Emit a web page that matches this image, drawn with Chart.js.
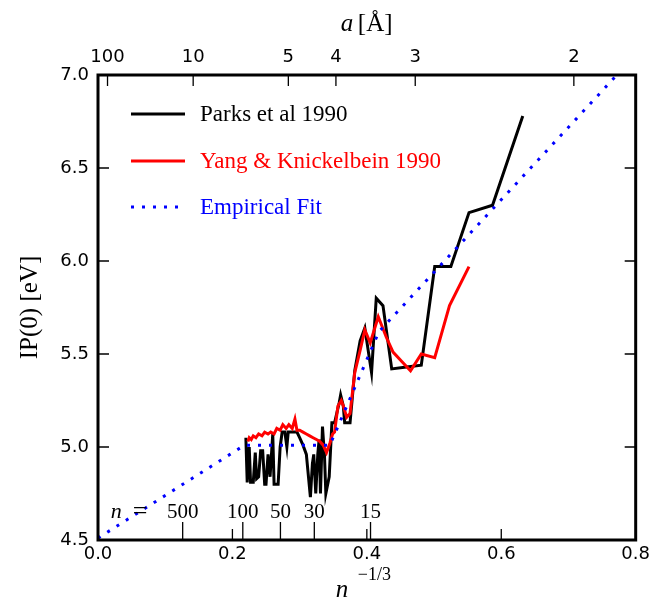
<!DOCTYPE html>
<html>
<head>
<meta charset="utf-8">
<script src="https://cdn.jsdelivr.net/npm/chart.js@4.4.0/dist/chart.umd.min.js"></script>
<style>
  html, body { margin: 0; padding: 0; background: #fff; }
</style>
</head>
<body>
<canvas id="ipChart" width="654" height="606"></canvas>
<script>
// Parks et al 1990 (black)
const parksX = [0.220, 0.222, 0.225, 0.227, 0.231, 0.234, 0.236, 0.239, 0.242, 0.245,
  0.248, 0.250, 0.253, 0.256, 0.260, 0.262, 0.268, 0.271, 0.274, 0.278,
  0.281, 0.283, 0.289, 0.296, 0.300, 0.305, 0.310, 0.316, 0.319, 0.321,
  0.324, 0.327, 0.329, 0.331, 0.334, 0.337, 0.339, 0.344, 0.348, 0.352,
  0.359, 0.361, 0.365, 0.367, 0.375, 0.382, 0.390, 0.397, 0.407, 0.414,
  0.424, 0.437, 0.459, 0.481, 0.501, 0.525, 0.552, 0.587, 0.632];
const parksY = [5.05, 4.81, 5.00, 4.81, 4.81, 4.97, 4.83, 4.84, 4.98, 4.98,
  4.80, 4.80, 4.96, 4.84, 5.07, 4.80, 4.80, 5.00, 5.08, 5.08,
  5.00, 5.08, 5.08, 5.08, 5.05, 5.01, 4.96, 4.73, 4.91, 4.96,
  4.75, 4.96, 5.04, 4.75, 5.11, 4.95, 4.75, 4.84, 5.13, 5.13,
  5.24, 5.28, 5.22, 5.13, 5.13, 5.41, 5.57, 5.64, 5.40, 5.80,
  5.76, 5.42, 5.43, 5.44, 5.97, 5.97, 6.26, 6.30, 6.78];

// Yang & Knickelbein 1990 (red)
const yangX = [0.223, 0.225, 0.228, 0.231, 0.235, 0.239, 0.244, 0.248, 0.253, 0.257,
  0.262, 0.266, 0.271, 0.275, 0.280, 0.284, 0.289, 0.293, 0.296, 0.300,
  0.305, 0.310, 0.315, 0.320, 0.325, 0.330, 0.335, 0.340, 0.345, 0.349,
  0.352, 0.357, 0.362, 0.365, 0.370, 0.375, 0.382, 0.390, 0.397, 0.405,
  0.417, 0.429, 0.439, 0.452, 0.465, 0.481, 0.501, 0.523, 0.552];
const yangY = [5.03, 5.05, 5.04, 5.06, 5.05, 5.07, 5.06, 5.08, 5.07, 5.08,
  5.07, 5.10, 5.09, 5.12, 5.10, 5.12, 5.10, 5.15, 5.09, 5.09,
  5.08, 5.07, 5.06, 5.05, 5.04, 5.03, 5.01, 4.97, 5.02, 5.07,
  5.08, 5.22, 5.25, 5.22, 5.16, 5.18, 5.40, 5.52, 5.63, 5.56,
  5.70, 5.59, 5.51, 5.46, 5.41, 5.50, 5.48, 5.76, 5.97];

// Empirical fit (blue dotted)
const fitX = [0.0, 0.218, 0.345, 0.418, 0.772];
const fitY = [4.51, 5.01, 5.01, 5.62, 7.0];

// axes
const xTickLabels = [0.0, 0.2, 0.4, 0.6, 0.8];
const yTickLabels = [4.5, 5.0, 5.5, 6.0, 6.5, 7.0];
const aTicks = [100, 10, 5, 4, 3, 2];   // top axis, a [Å]
const aToX = 1.416;                      // n^-1/3 = aToX / a
const nTicks = [500, 100, 50, 30, 15];   // cluster sizes marked at bottom

const serif = '"Liberation Serif", "DejaVu Serif", serif';
const sans = '"DejaVu Sans", sans-serif';

function pairs(xs, ys) {
  return xs.map((x, i) => ({ x: x, y: ys[i] }));
}

const frameTicks = {
  id: 'frameTicks',
  afterDraw(chart) {
    const { ctx, chartArea: ca, scales } = chart;
    const xs = scales.x, ys = scales.y;
    ctx.save();
    ctx.strokeStyle = '#000';
    ctx.lineWidth = 1.3;
    ctx.beginPath();
    yTickLabels.slice(1, -1).forEach(v => {
      const py = ys.getPixelForValue(v);
      ctx.moveTo(ca.left, py); ctx.lineTo(ca.left + 11, py);
      ctx.moveTo(ca.right, py); ctx.lineTo(ca.right - 11, py);
    });
    xTickLabels.slice(1, -1).forEach(v => {
      const px = xs.getPixelForValue(v);
      ctx.moveTo(px, ca.bottom); ctx.lineTo(px, ca.bottom - 11);
    });
    nTicks.forEach(n => {
      const px = xs.getPixelForValue(Math.pow(n, -1 / 3));
      ctx.moveTo(px, ca.bottom); ctx.lineTo(px, ca.bottom - 18);
    });
    aTicks.forEach(a => {
      const px = xs.getPixelForValue(aToX / a);
      ctx.moveTo(px, ca.top); ctx.lineTo(px, ca.top + 11);
    });
    ctx.stroke();

    ctx.lineWidth = 3;
    ctx.strokeRect(ca.left, ca.top, ca.right - ca.left, ca.bottom - ca.top);

    // n labels inside the plot
    ctx.fillStyle = '#000';
    ctx.textBaseline = 'alphabetic';
    ctx.textAlign = 'center';
    ctx.font = '21px ' + serif;
    nTicks.forEach(n => {
      const px = xs.getPixelForValue(Math.pow(n, -1 / 3));
      ctx.fillText(String(n), px, ca.bottom - 22);
    });
    const p500 = xs.getPixelForValue(Math.pow(500, -1 / 3));
    ctx.textAlign = 'left';
    ctx.font = 'italic 22px ' + serif;
    ctx.fillText('n', p500 - 72, ca.bottom - 22);
    ctx.font = '26px ' + serif;
    ctx.fillText('=', p500 - 50, ca.bottom - 21);

    // bottom title n^{-1/3}
    const midX = (ca.left + ca.right) / 2;
    ctx.font = 'italic 25px ' + serif;
    ctx.fillText('n', midX - 31, 597);
    ctx.font = '18px ' + serif;
    ctx.fillText('\u22121/3', midX - 9, 580);

    // top title a [Å]
    ctx.font = 'italic 25px ' + serif;
    ctx.fillText('a', midX - 26, 31);
    ctx.font = '25px ' + serif;
    ctx.fillText('[\u00C5]', midX - 9, 31);

    // legend
    const rows = [114, 161, 207];
    chart.data.datasets.forEach((ds, i) => {
      const y = rows[i];
      ctx.beginPath();
      ctx.strokeStyle = ds.borderColor;
      ctx.lineWidth = ds.borderWidth;
      ctx.setLineDash(ds.borderDash || []);
      ctx.moveTo(131, y); ctx.lineTo(185, y);
      ctx.stroke();
      ctx.setLineDash([]);
      ctx.fillStyle = ds.borderColor;
      ctx.font = '23px ' + serif;
      ctx.textBaseline = 'middle';
      ctx.fillText(ds.label, 200, y + 1);
    });
    ctx.restore();
  }
};

new Chart('ipChart', {
  type: 'scatter',
  data: {
    datasets: [
      {
        label: 'Parks et al 1990',
        data: pairs(parksX, parksY),
        showLine: true,
        borderColor: '#000000',
        borderWidth: 3,
        pointRadius: 0,
        order: 2
      },
      {
        label: 'Yang & Knickelbein 1990',
        data: pairs(yangX, yangY),
        showLine: true,
        borderColor: '#ff0000',
        borderWidth: 3,
        pointRadius: 0,
        order: 1
      },
      {
        label: 'Empirical Fit',
        data: pairs(fitX, fitY),
        showLine: true,
        borderColor: '#0000ff',
        borderWidth: 3,
        borderDash: [3, 8],
        pointRadius: 0,
        order: 0
      }
    ]
  },
  options: {
    responsive: false,
    animation: false,
    devicePixelRatio: 1,
    layout: { padding: { left: 0, right: 18, top: 0, bottom: 0 } },
    plugins: {
      legend: { display: false },
      tooltip: { enabled: false }
    },
    scales: {
      x: {
        type: 'linear',
        position: 'bottom',
        min: 0,
        max: 0.8,
        afterBuildTicks: s => { s.ticks = xTickLabels.map(v => ({ value: v })); },
        ticks: {
          callback: v => v.toFixed(1),
          font: { family: sans, size: 18 },
          color: '#000',
          padding: 4,
          maxRotation: 0,
          autoSkip: false
        },
        grid: { drawOnChartArea: false, drawTicks: false },
        border: { display: false },
        afterFit: s => { s.height = 66; }
      },
      xTop: {
        type: 'linear',
        position: 'top',
        min: 0,
        max: 0.8,
        afterBuildTicks: s => { s.ticks = aTicks.map(a => ({ value: aToX / a })); },
        ticks: {
          callback: (v, i) => String(aTicks[i]),
          font: { family: sans, size: 18 },
          color: '#000',
          padding: 7,
          maxRotation: 0,
          autoSkip: false
        },
        grid: { drawOnChartArea: false, drawTicks: false },
        border: { display: false },
        afterFit: s => { s.height = 75; }
      },
      y: {
        type: 'linear',
        min: 4.5,
        max: 7.0,
        afterBuildTicks: s => { s.ticks = yTickLabels.map(v => ({ value: v })); },
        ticks: {
          callback: v => v.toFixed(1),
          font: { family: sans, size: 18 },
          color: '#000',
          padding: 9
        },
        grid: { drawOnChartArea: false, drawTicks: false },
        border: { display: false },
        title: {
          display: true,
          text: 'IP(0) [eV]',
          font: { family: serif, size: 25 },
          color: '#000',
          padding: { top: 15, bottom: 0 }
        },
        afterFit: s => { s.width = 98; }
      }
    }
  },
  plugins: [frameTicks]
});
</script>
</body>
</html>
